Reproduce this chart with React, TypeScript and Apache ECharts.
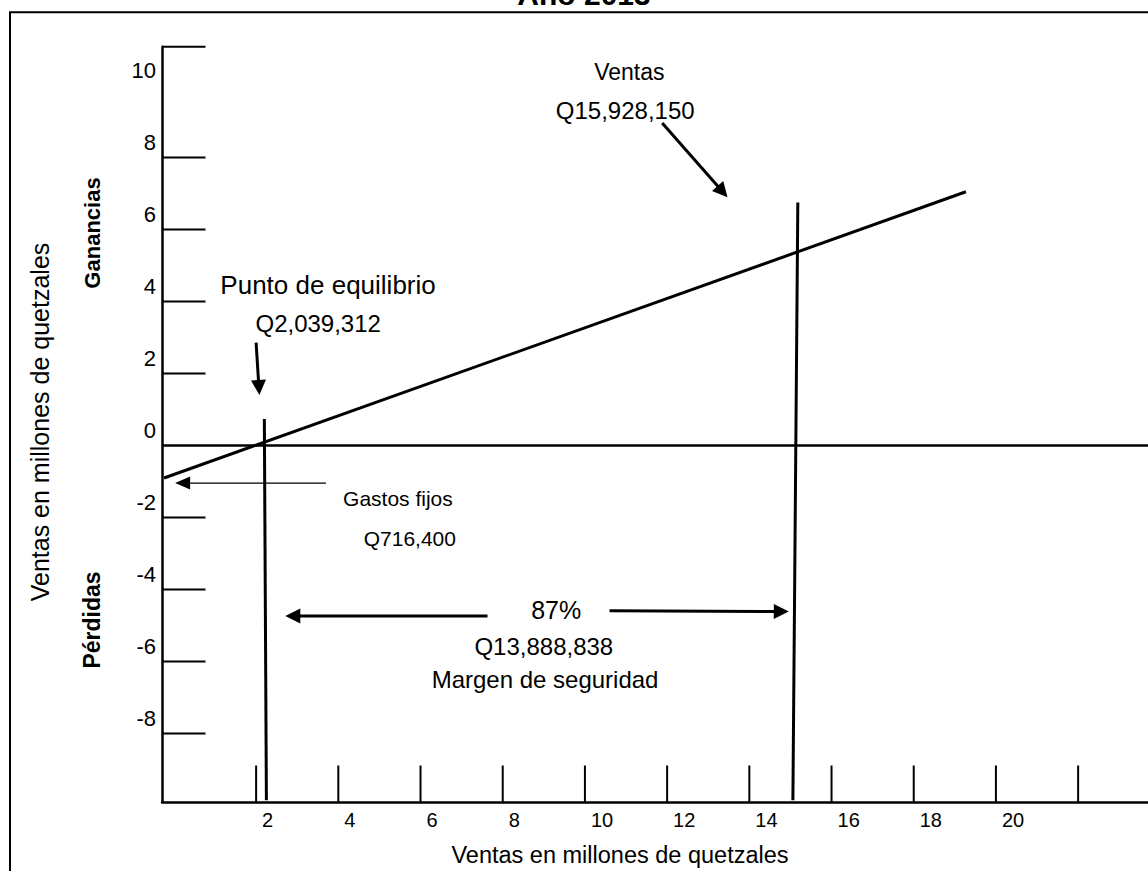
import React, { useEffect, useRef } from "react";
import * as echarts from "echarts";

// ---- axis extents (millions of quetzales) ----
const X_MIN = -0.29;
const X_MAX = 23.7;
const Y_MIN = -9.9;
const Y_MAX = 11.08;

// ---- tick marks and labels ----
const yTickValues = [Y_MAX, 8, 6, 4, 2, -2, -4, -6, -8];
const yLabelValues = [10, 8, 6, 4, 2, 0, -2, -4, -6, -8];
const xTickValues = [2, 4, 6, 8, 10, 12, 14, 16, 18, 20, 22];
const xLabelValues = [2, 4, 6, 8, 10, 12, 14, 16, 18, 20];

// ---- lines ----
const profitLine = [
  [-0.24, -0.9],
  [19.27, 7.05],
];
const salesLine = [
  [15.18, 6.75],
  [15.06, -9.85],
];
const breakEvenLine = [
  [2.2, 0.74],
  [2.25, -9.85],
];
const zeroLine = [
  [X_MIN, 0],
  [X_MAX, 0],
];

// ---- arrows: [fromX, fromY, toX, toY] ----
const arrows = [
  [2.0, 2.86, 2.08, 1.405],
  [11.88, 8.96, 13.47, 6.9],
  [3.7, -1.04, 0.03, -1.04],
  [7.63, -4.73, 2.71, -4.73],
  [10.6, -4.59, 14.96, -4.61],
];

// ---- annotation texts ----
const noteTexts = [
  "Ventas",
  "Q15,928,150",
  "Punto de equilibrio",
  "Q2,039,312",
  "Gastos fijos",
  "Q716,400",
  "87%",
  "Q13,888,838",
  "Margen de seguridad",
];
const noteX = [11.08, 10.98, 3.75, 3.51, 5.45, 5.74, 9.3, 9.0, 9.03];
const noteY = [10.39, 9.32, 4.46, 3.4, -1.46, -2.57, -4.57, -5.57, -6.51];

// ---- styles ----
const FONT = "'Liberation Sans', Arial, Helvetica, sans-serif";
const NOTE_FONT_SIZES = [23, 24, 26, 24, 21, 21, 25, 24, 24];
const ARROW_WIDTHS = [3, 3, 1.3, 3, 3];

function arrowRender(params: any, api: any) {
  const p1 = api.coord([api.value(0), api.value(1)]);
  const p2 = api.coord([api.value(2), api.value(3)]);
  const w = ARROW_WIDTHS[params.dataIndex];
  const dx = p2[0] - p1[0];
  const dy = p2[1] - p1[1];
  const len = Math.hypot(dx, dy) || 1;
  const ux = dx / len;
  const uy = dy / len;
  const headLen = 15;
  const headW = w < 2 ? 6.5 : 7.5;
  const bx = p2[0] - ux * headLen;
  const by = p2[1] - uy * headLen;
  const nx = -uy;
  const ny = ux;
  return {
    type: "group",
    children: [
      {
        type: "line",
        shape: { x1: p1[0], y1: p1[1], x2: bx + ux * 2, y2: by + uy * 2 },
        style: { stroke: "#000", lineWidth: w },
      },
      {
        type: "polygon",
        shape: {
          points: [
            [p2[0], p2[1]],
            [bx + nx * headW, by + ny * headW],
            [bx - nx * headW, by - ny * headW],
          ],
        },
        style: { fill: "#000" },
      },
    ],
  };
}

export default function App() {
  const ref = useRef<HTMLDivElement>(null);

  useEffect(() => {
    document.body.style.margin = "0";
    if (!ref.current) return;
    const chart = echarts.init(ref.current, undefined, { renderer: "svg" });

    const lineStyleSeries = (data: number[][], width: number) => ({
      type: "line",
      data,
      symbol: "none",
      silent: true,
      clip: false,
      lineStyle: { color: "#000", width },
      z: 3,
    });

    chart.setOption({
      animation: false,
      backgroundColor: "#ffffff",
      grid: {
        left: 162,
        top: 46.7,
        right: 0,
        bottom: 69,
        outerBoundsMode: "none",
      },
      xAxis: {
        type: "value",
        min: X_MIN,
        max: X_MAX,
        axisLine: { onZero: false, lineStyle: { color: "#000", width: 2.5 } },
        axisTick: { show: false },
        axisLabel: { show: false },
        splitLine: { show: false },
      },
      yAxis: {
        type: "value",
        min: Y_MIN,
        max: Y_MAX,
        axisLine: {
          show: true,
          onZero: false,
          lineStyle: { color: "#000", width: 2.5 },
        },
        axisTick: { show: false },
        axisLabel: { show: false },
        splitLine: { show: false },
      },
      graphic: [
        {
          type: "rect",
          shape: { x: 10, y: 12.3, width: 1400, height: 1000 },
          style: { fill: "none", stroke: "#000", lineWidth: 2 },
          silent: true,
        },
        {
          type: "text",
          x: 584,
          y: -6,
          style: {
            text: "Año 2013",
            fontSize: 30,
            fontWeight: "bold",
            fontFamily: FONT,
            fill: "#000",
            align: "center",
            verticalAlign: "middle",
          },
        },
        {
          type: "text",
          x: 40,
          y: 422,
          rotation: Math.PI / 2,
          style: {
            text: "Ventas en millones de quetzales",
            fontSize: 25,
            fontFamily: FONT,
            fill: "#000",
            align: "center",
            verticalAlign: "middle",
          },
        },
        {
          type: "text",
          x: 92,
          y: 233,
          rotation: Math.PI / 2,
          style: {
            text: "Ganancias",
            fontSize: 22,
            fontWeight: "bold",
            fontFamily: FONT,
            fill: "#000",
            align: "center",
            verticalAlign: "middle",
          },
        },
        {
          type: "text",
          x: 92,
          y: 620,
          rotation: Math.PI / 2,
          style: {
            text: "Pérdidas",
            fontSize: 23,
            fontWeight: "bold",
            fontFamily: FONT,
            fill: "#000",
            align: "center",
            verticalAlign: "middle",
          },
        },
        {
          type: "text",
          x: 620,
          y: 855,
          style: {
            text: "Ventas en millones de quetzales",
            fontSize: 23.5,
            fontFamily: FONT,
            fill: "#000",
            align: "center",
            verticalAlign: "middle",
          },
        },
      ],
      series: [
        lineStyleSeries(zeroLine, 2.5),
        lineStyleSeries(profitLine, 3),
        lineStyleSeries(salesLine, 3),
        lineStyleSeries(breakEvenLine, 3),
        // y ticks (inside, pointing right)
        {
          type: "custom",
          silent: true,
          data: yTickValues.map((v) => [X_MIN, v]),
          renderItem: (params: any, api: any) => {
            const p = api.coord([api.value(0), api.value(1)]);
            return {
              type: "line",
              shape: { x1: p[0], y1: p[1], x2: p[0] + 43.5, y2: p[1] },
              style: { stroke: "#000", lineWidth: 2 },
            };
          },
          z: 4,
        },
        // y labels
        {
          type: "custom",
          silent: true,
          data: yLabelValues.map((v) => [X_MIN, v]),
          renderItem: (params: any, api: any) => {
            const p = api.coord([api.value(0), api.value(1)]);
            return {
              type: "text",
              x: p[0] - 6,
              y: p[1] - 15.5,
              style: {
                text: String(yLabelValues[params.dataIndex]),
                fontSize: 22,
                fontFamily: FONT,
                fill: "#000",
                align: "right",
                verticalAlign: "middle",
              },
            };
          },
          z: 4,
        },
        // x ticks (inside, pointing up)
        {
          type: "custom",
          silent: true,
          data: xTickValues.map((v) => [v, Y_MIN]),
          renderItem: (params: any, api: any) => {
            const p = api.coord([api.value(0), api.value(1)]);
            return {
              type: "line",
              shape: { x1: p[0], y1: p[1], x2: p[0], y2: p[1] - 36.5 },
              style: { stroke: "#000", lineWidth: 2 },
            };
          },
          z: 4,
        },
        // x labels
        {
          type: "custom",
          silent: true,
          data: xLabelValues.map((v) => [v, Y_MIN]),
          renderItem: (params: any, api: any) => {
            const p = api.coord([api.value(0), api.value(1)]);
            return {
              type: "text",
              x: p[0] + 6,
              y: p[1] + 18,
              style: {
                text: String(xLabelValues[params.dataIndex]),
                fontSize: 20,
                fontFamily: FONT,
                fill: "#000",
                align: "left",
                verticalAlign: "middle",
              },
            };
          },
          z: 4,
        },
        // arrows
        {
          type: "custom",
          silent: true,
          data: arrows,
          encode: { x: [0, 2], y: [1, 3] },
          renderItem: arrowRender,
          z: 5,
        },
        // annotations
        {
          type: "custom",
          silent: true,
          data: noteX.map((x, i) => [x, noteY[i]]),
          renderItem: (params: any, api: any) => {
            const p = api.coord([api.value(0), api.value(1)]);
            return {
              type: "text",
              x: p[0],
              y: p[1],
              style: {
                text: noteTexts[params.dataIndex],
                fontSize: NOTE_FONT_SIZES[params.dataIndex],
                fontFamily: FONT,
                fill: "#000",
                align: "center",
                verticalAlign: "middle",
              },
            };
          },
          z: 5,
        },
      ],
    });

    return () => {
      chart.dispose();
    };
  }, []);

  return <div ref={ref} style={{ width: 1148, height: 871 }} />;
}
